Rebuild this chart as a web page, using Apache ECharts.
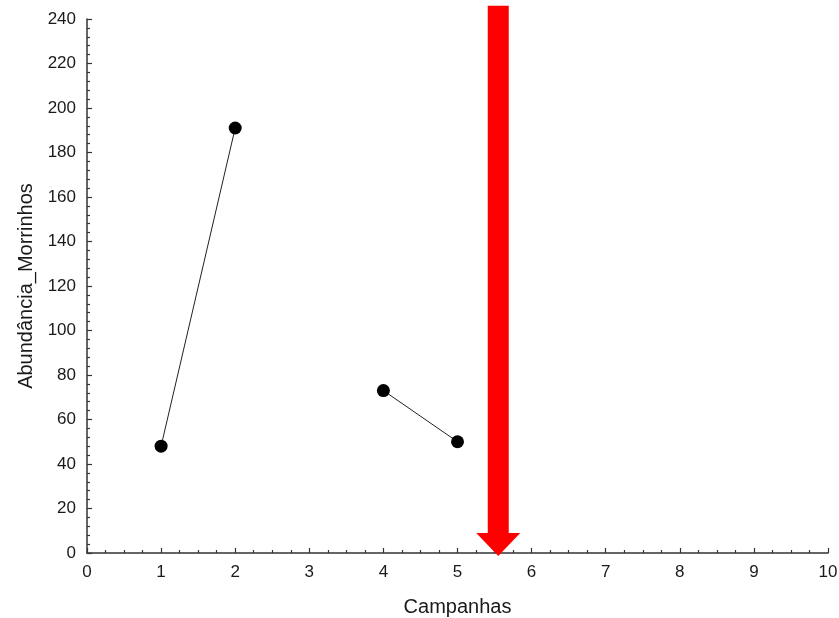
<!DOCTYPE html>
<html><head><meta charset="utf-8">
<script src="https://cdn.jsdelivr.net/npm/echarts@6/dist/echarts.min.js"></script>
<style>html,body{margin:0;padding:0;background:#fff}#c{width:839px;height:618px}</style>
</head><body><div id="c"></div>
<script>
const campanhas = [1, 2, 3, 4, 5];
const abundancia = [48, 191, null, 73, 50];
const xTitle = 'Campanhas';
const yTitle = 'Abundância_Morrinhos';
const arrowX = 5.55;
const arrowTop = 246;
const arrowTip = -1.3;

const chart = echarts.init(document.getElementById('c'));
const font = 'Liberation Sans, Arial, sans-serif';
chart.setOption({
  animation: false,
  backgroundColor: '#fff',
  grid: {left: 87, right: 11, top: 19, bottom: 65, outerBoundsMode: 'none', containLabel: false},
  xAxis: {
    type: 'value', min: 0, max: 10, interval: 1,
    name: xTitle, nameLocation: 'middle', nameGap: 44,
    nameTextStyle: {fontFamily: font, fontSize: 20, color: '#1a1a1a'},
    axisLine: {lineStyle: {color: '#333', width: 1.5}},
    axisTick: {inside: true, length: 5, lineStyle: {color: '#333', width: 1.2}},
    minorTick: {show: true, splitNumber: 4, length: 3, lineStyle: {color: '#333', width: 1.2}},
    axisLabel: {fontFamily: font, fontSize: 17, color: '#1a1a1a', margin: 11},
    splitLine: {show: false}
  },
  yAxis: {
    type: 'value', min: 0, max: 240, interval: 20,
    name: yTitle, nameLocation: 'middle', nameGap: 43,
    nameTextStyle: {fontFamily: font, fontSize: 20, color: '#1a1a1a'},
    axisLine: {show: true, lineStyle: {color: '#333', width: 1.5}},
    axisTick: {show: true, inside: true, length: 5, lineStyle: {color: '#333', width: 1.2}},
    minorTick: {show: true, splitNumber: 5, length: 3, lineStyle: {color: '#333', width: 1.2}},
    axisLabel: {fontFamily: font, fontSize: 17, color: '#1a1a1a', margin: 11},
    splitLine: {show: false}
  },
  series: [
    {
      type: 'line',
      data: campanhas.map((c, i) => [c, abundancia[i] == null ? '-' : abundancia[i]]),
      connectNulls: false,
      symbol: 'circle', symbolSize: 13,
      itemStyle: {color: '#000'},
      lineStyle: {color: '#222', width: 1},
      z: 3
    },
    {
      type: 'custom',
      clip: false,
      data: [[arrowX, arrowTop, arrowTip]],
      renderItem: function (params, api) {
        const top = api.coord([api.value(0), api.value(1)]);
        const tip = api.coord([api.value(0), api.value(2)]);
        const cx = top[0];
        const sw = 10.5, hw = 22, hh = 23;
        const baseY = tip[1] - hh;
        return {
          type: 'polygon',
          shape: {points: [
            [cx - sw, top[1]], [cx + sw, top[1]], [cx + sw, baseY], [cx + hw, baseY],
            [cx, tip[1]], [cx - hw, baseY], [cx - sw, baseY]
          ]},
          style: {fill: '#ff0000'}
        };
      },
      z: 5
    }
  ]
});
</script></body></html>
